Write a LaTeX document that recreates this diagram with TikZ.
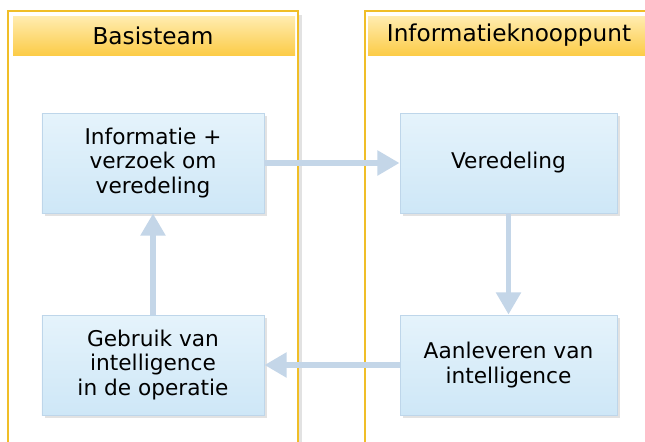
\documentclass[tikz,border=0pt]{standalone}
\usepackage{fontspec}
\setmainfont{DejaVu Sans}
\usetikzlibrary{arrows.meta,shadows}
\definecolor{laanrand}{RGB}{240,190,40}
\definecolor{koptop}{RGB}{255,236,176}
\definecolor{kopbodem}{RGB}{252,204,72}
\definecolor{staprand}{RGB}{190,214,234}
\definecolor{staptop}{RGB}{229,243,251}
\definecolor{stapbodem}{RGB}{206,231,247}
\definecolor{pijlkleur}{RGB}{196,214,232}
\definecolor{schaduw}{RGB}{226,226,226}
\tikzset{
  lane/.style={draw=laanrand,line width=1pt,fill=white},
  kop/.style={inner sep=0pt,font=\fontsize{19.8pt}{23pt}\selectfont},
  stap/.style={draw=staprand,line width=0.8pt,top color=staptop,bottom color=stapbodem,
    minimum width=6.66cm,minimum height=3cm,align=center,
    font=\fontsize{18.5pt}{20.8pt}\selectfont,
    drop shadow={shadow xshift=0.09cm,shadow yshift=-0.09cm,fill=schaduw,opacity=1}},
  pijl/.style={draw=pijlkleur,line width=5pt,-{Triangle[width=20.5pt,length=19pt]}}
}
\begin{document}
\begin{tikzpicture}[x=0.03cm,y=-0.03cm]
  \useasboundingbox (0,0) rectangle (645,441);
  % swimlanes
  \fill[schaduw] (12,15) rectangle (302,450);
  \draw[lane] (8,11) rectangle (298,450);
  \fill[schaduw] (369,15) rectangle (660,450);
  \draw[lane] (365,11) rectangle (655,450);
  \shade[top color=koptop,bottom color=kopbodem] (13,16) rectangle (295,55);
  \shade[top color=koptop,bottom color=kopbodem] (368,16) rectangle (655,55);
  \node[kop] (basis) at (153,35.5) {Basisteam};
  \node[kop] (ikp) at (509,35.5) {Informatieknooppunt};
  % stappen
  \node[stap] (info) at (153,163) {Informatie +\\verzoek om\\veredeling};
  \node[stap,minimum width=6.51cm] (vered) at (508.5,163) {Veredeling};
  \node[stap,minimum width=6.51cm] (aanlev) at (508.5,365) {Aanleveren van\\intelligence};
  \node[stap] (gebruik) at (153,365) {Gebruik van\\intelligence\\in de operatie};
  % pijlen
  \draw[pijl] (info.east) -- (vered.west);
  \draw[pijl] (vered.south) -- (aanlev.north);
  \draw[pijl] (aanlev.west) -- (gebruik.east);
  \draw[pijl] (gebruik.north) -- (info.south);
\end{tikzpicture}
\end{document}
